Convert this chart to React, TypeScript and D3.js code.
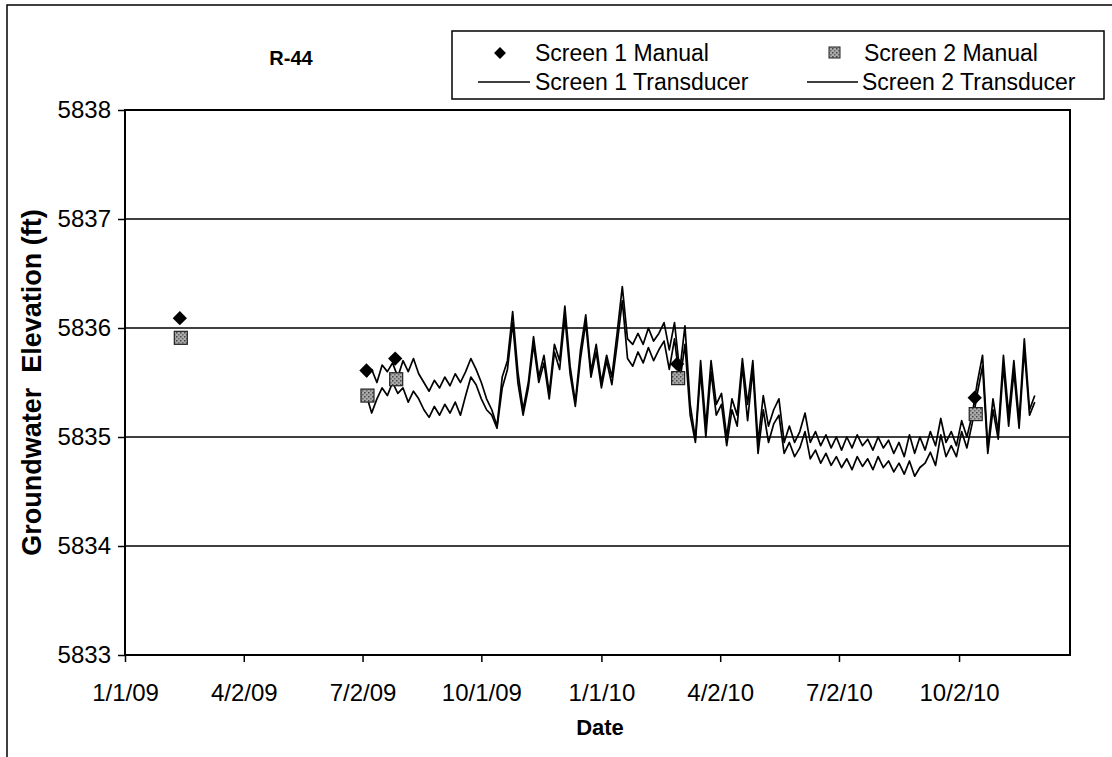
import * as d3 from "d3";
import { useEffect, useRef } from "react";

// manual measurements
const manualDates = ["2/12/09", "7/5/09", "7/27/09", "2/28/10", "10/14/10"];
const screen1Manual = [5836.09, 5835.61, 5835.72, 5835.67, 5835.36];
const screen2Manual = [5835.91, 5835.38, 5835.53, 5835.54, 5835.21];

// transducer readings, one every 4 days starting 7/5/09
const transducerStart = "7/5/09";
const transducerStepDays = 4;
const screen1Transducer = [
  5835.55, 5835.62, 5835.5, 5835.66, 5835.6, 5835.68, 5835.55, 5835.7, 5835.6, 5835.72,
  5835.58, 5835.5, 5835.42, 5835.52, 5835.45, 5835.55, 5835.47, 5835.58, 5835.5, 5835.6,
  5835.72, 5835.62, 5835.5, 5835.35, 5835.25, 5835.1, 5835.55, 5835.7, 5836.15, 5835.6,
  5835.25, 5835.5, 5835.92, 5835.55, 5835.75, 5835.4, 5835.85, 5835.7, 5836.2, 5835.65,
  5835.32, 5835.8, 5836.12, 5835.6, 5835.85, 5835.5, 5835.75, 5835.55, 5835.95, 5836.38,
  5835.9, 5835.85, 5835.95, 5835.85, 5836.0, 5835.88, 5835.95, 5836.05, 5835.8, 5836.05,
  5835.6, 5836.02, 5835.3, 5834.98, 5835.7, 5835.1, 5835.7, 5835.3, 5835.4, 5835.0,
  5835.35, 5835.2, 5835.72, 5835.3, 5835.7, 5834.95, 5835.38, 5835.1, 5835.25, 5835.35,
  5834.95, 5835.1, 5834.95, 5835.05, 5835.22, 5834.95, 5835.05, 5834.92, 5835.02, 5834.9,
  5835.0, 5834.88, 5835.0, 5834.9, 5835.02, 5834.92, 5834.98, 5834.88, 5835.0, 5834.9,
  5834.97, 5834.85, 5834.95, 5834.82, 5835.02, 5834.85, 5835.0, 5834.88, 5835.05, 5834.92,
  5835.17, 5834.95, 5835.05, 5834.92, 5835.15, 5835.0, 5835.2, 5835.5, 5835.75, 5834.9,
  5835.35, 5835.05, 5835.75, 5835.2, 5835.7, 5835.15, 5835.9, 5835.25, 5835.38,
];
const screen2Transducer = [
  5835.38, 5835.22, 5835.35, 5835.45, 5835.38, 5835.5, 5835.4, 5835.45, 5835.32, 5835.42,
  5835.35, 5835.25, 5835.18, 5835.28, 5835.2, 5835.3, 5835.22, 5835.32, 5835.2, 5835.38,
  5835.55, 5835.48, 5835.35, 5835.25, 5835.2, 5835.08, 5835.45, 5835.62, 5836.05, 5835.5,
  5835.2, 5835.45, 5835.85, 5835.5, 5835.68, 5835.35, 5835.78, 5835.62, 5836.1, 5835.58,
  5835.28, 5835.72, 5836.05, 5835.55, 5835.78, 5835.45, 5835.7, 5835.48, 5835.85, 5836.25,
  5835.72, 5835.65, 5835.78, 5835.68, 5835.82, 5835.7, 5835.8, 5835.88, 5835.62, 5835.9,
  5835.5, 5835.85, 5835.2, 5834.95, 5835.6, 5835.0, 5835.6, 5835.2, 5835.3, 5834.92,
  5835.25, 5835.1, 5835.65, 5835.15, 5835.62, 5834.85, 5835.25, 5834.95, 5835.12, 5835.2,
  5834.85, 5834.95, 5834.82, 5834.9, 5835.05, 5834.8, 5834.88, 5834.76, 5834.85, 5834.74,
  5834.82, 5834.72, 5834.8, 5834.7, 5834.82, 5834.73, 5834.8, 5834.7, 5834.82, 5834.72,
  5834.78, 5834.68, 5834.76, 5834.66, 5834.78, 5834.64, 5834.72, 5834.76, 5834.86, 5834.74,
  5835.02, 5834.82, 5834.92, 5834.82, 5835.05, 5834.9, 5835.12, 5835.4, 5835.65, 5834.85,
  5835.25, 5834.98, 5835.65, 5835.1, 5835.6, 5835.08, 5835.8, 5835.2, 5835.32,
];

const xTickLabels = ["1/1/09", "4/2/09", "7/2/09", "10/1/09", "1/1/10", "4/2/10", "7/2/10", "10/2/10"];
const yTicks = [5833, 5834, 5835, 5836, 5837, 5838];

const FONT = "'Liberation Sans', Arial, sans-serif";

export default function App() {
  const ref = useRef<SVGSVGElement>(null);

  useEffect(() => {
    const svg = d3.select(ref.current);
    svg.selectAll("*").remove();

    const parse = d3.timeParse("%m/%d/%y");
    const left = 125, right = 1070, top = 110, bottom = 655;

    const x = d3.scaleTime()
      .domain([new Date(2009, 0, 1), new Date(2010, 11, 26)])
      .range([left, right]);
    const y = d3.scaleLinear().domain([5833, 5838]).range([bottom, top]);

    // speckled fill for the screen 2 squares
    const pat = svg.append("defs").append("pattern")
      .attr("id", "speck").attr("width", 4).attr("height", 4)
      .attr("patternUnits", "userSpaceOnUse");
    pat.append("rect").attr("width", 4).attr("height", 4).attr("fill", "#aaa");
    pat.append("rect").attr("x", 0).attr("y", 0).attr("width", 1.5).attr("height", 1.5).attr("fill", "#444");
    pat.append("rect").attr("x", 2).attr("y", 2).attr("width", 1.5).attr("height", 1.5).attr("fill", "#666");

    // outer frame
    svg.append("rect").attr("x", 7).attr("y", 5).attr("width", 1130).attr("height", 780)
      .attr("fill", "none").attr("stroke", "#000").attr("stroke-width", 1.5);

    // gridlines
    svg.append("g").selectAll("line").data(yTicks.slice(1, -1)).enter().append("line")
      .attr("x1", left).attr("x2", right)
      .attr("y1", d => y(d)).attr("y2", d => y(d))
      .attr("stroke", "#000").attr("stroke-width", 1.5);

    // y axis
    const yAxis = svg.append("g")
      .attr("transform", `translate(${left},0)`)
      .call(d3.axisLeft(y).tickValues(yTicks).tickFormat(d3.format("d")).tickSize(7).tickPadding(7));
    yAxis.select(".domain").remove();
    yAxis.selectAll("line").attr("stroke", "#000").attr("stroke-width", 1.5);
    yAxis.selectAll("text").attr("font-family", FONT).attr("font-size", 24).attr("fill", "#000");

    // x axis
    const tickDates = xTickLabels.map(s => parse(s) as Date);
    const xAxis = svg.append("g")
      .attr("transform", `translate(0,${bottom})`)
      .call(d3.axisBottom(x).tickValues(tickDates)
        .tickFormat((_d, i) => xTickLabels[i]).tickSize(7).tickPadding(22));
    xAxis.select(".domain").remove();
    xAxis.selectAll("line").attr("stroke", "#000").attr("stroke-width", 1.5);
    xAxis.selectAll("text").attr("font-family", FONT).attr("font-size", 24).attr("fill", "#000");

    // plot border
    svg.append("rect").attr("x", left).attr("y", top)
      .attr("width", right - left).attr("height", bottom - top)
      .attr("fill", "none").attr("stroke", "#000").attr("stroke-width", 2);

    // transducer lines
    const start = parse(transducerStart) as Date;
    const toPts = (vals: number[]) =>
      vals.map((v, i) => ({ date: d3.timeDay.offset(start, i * transducerStepDays), v }));
    const line = d3.line<{ date: Date; v: number }>().x(d => x(d.date)).y(d => y(d.v));
    [screen2Transducer, screen1Transducer].forEach(s => {
      svg.append("path").attr("d", line(toPts(s)))
        .attr("fill", "none").attr("stroke", "#000").attr("stroke-width", 1.7)
        .attr("stroke-linejoin", "round");
    });

    // manual points
    const mDates = manualDates.map(s => parse(s) as Date);
    const sq = 13;
    svg.append("g").selectAll("rect").data(screen2Manual).enter().append("rect")
      .attr("x", (_d, i) => x(mDates[i]) - sq / 2 + 1).attr("y", d => y(d) - sq / 2)
      .attr("width", sq).attr("height", sq)
      .attr("fill", "url(#speck)").attr("stroke", "#222").attr("stroke-width", 1.2);
    const diamond = d3.symbol().type(d3.symbolDiamond2).size(130);
    svg.append("g").selectAll("path").data(screen1Manual).enter().append("path")
      .attr("transform", (d, i) => `translate(${x(mDates[i])},${y(d)})`)
      .attr("d", diamond()).attr("fill", "#000");

    // title
    svg.append("text").attr("x", 291).attr("y", 65).attr("text-anchor", "middle")
      .attr("font-family", FONT).attr("font-weight", "bold").attr("font-size", 20).text("R-44");

    // axis titles
    svg.append("text").attr("x", 600).attr("y", 735).attr("text-anchor", "middle")
      .attr("font-family", FONT).attr("font-weight", "bold").attr("font-size", 22).text("Date");
    svg.append("text").attr("transform", `translate(41,${(top + bottom) / 2}) rotate(-90)`)
      .attr("text-anchor", "middle").style("white-space", "pre")
      .attr("font-family", FONT).attr("font-weight", "bold").attr("font-size", 27)
      .text("Groundwater  Elevation (ft)");

    // legend
    const lg = svg.append("g");
    lg.append("rect").attr("x", 452).attr("y", 31).attr("width", 652).attr("height", 68)
      .attr("fill", "#fff").attr("stroke", "#000").attr("stroke-width", 1.5);
    const row1 = 53, row2 = 82;
    lg.append("path").attr("transform", `translate(500,${row1})`)
      .attr("d", d3.symbol().type(d3.symbolDiamond2).size(90)()).attr("fill", "#000");
    lg.append("rect").attr("x", 829).attr("y", row1 - 6).attr("width", 11).attr("height", 11)
      .attr("fill", "url(#speck)").attr("stroke", "#222");
    lg.append("line").attr("x1", 478).attr("x2", 530).attr("y1", row2).attr("y2", row2)
      .attr("stroke", "#000").attr("stroke-width", 1.5);
    lg.append("line").attr("x1", 807).attr("x2", 858).attr("y1", row2).attr("y2", row2)
      .attr("stroke", "#000").attr("stroke-width", 1.5);
    const items = [
      { t: "Screen 1 Manual", x: 535, y: row1 },
      { t: "Screen 2 Manual", x: 864, y: row1 },
      { t: "Screen 1 Transducer", x: 535, y: row2 },
      { t: "Screen 2 Transducer", x: 862, y: row2 },
    ];
    lg.selectAll("text.item").data(items).enter().append("text")
      .attr("x", d => d.x).attr("y", d => d.y).attr("dy", "0.35em")
      .attr("font-family", FONT).attr("font-size", 23).text(d => d.t);
  }, []);

  return (
    <div style={{ position: "absolute", left: 0, top: 0 }}>
      <svg ref={ref} width={1112} height={757} style={{ display: "block", background: "#fff" }}></svg>
    </div>
  );
}
